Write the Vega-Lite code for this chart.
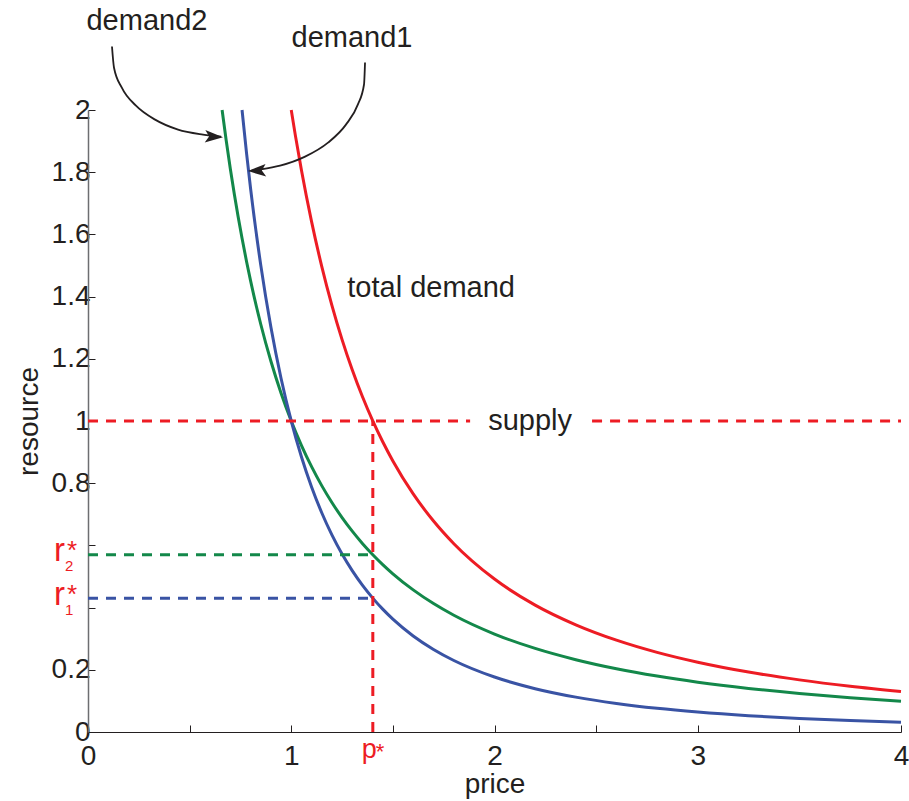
{
  "$schema": "https://vega.github.io/schema/vega-lite/v6.json",
  "width": 813,
  "height": 622,
  "autosize": {"type": "none"},
  "padding": {"left": 88, "top": 110, "right": 8, "bottom": 69},
  "background": "white",
  "config": {"view": {"stroke": null}, "font": "Liberation Sans"},
  "datasets": {
    "curves": [
      {"series": "demand2", "x": 0.6598, "y": 2.0},
      {"series": "demand2", "x": 0.68, "y": 1.9017},
      {"series": "demand2", "x": 0.70, "y": 1.8120},
      {"series": "demand2", "x": 0.72, "y": 1.7290},
      {"series": "demand2", "x": 0.7579, "y": 1.5874},
      {"series": "demand2", "x": 0.78, "y": 1.5130},
      {"series": "demand2", "x": 0.80, "y": 1.4505},
      {"series": "demand2", "x": 0.85, "y": 1.3111},
      {"series": "demand2", "x": 0.90, "y": 1.1920},
      {"series": "demand2", "x": 0.95, "y": 1.0893},
      {"series": "demand2", "x": 1.00, "y": 1.0},
      {"series": "demand2", "x": 1.05, "y": 0.9219},
      {"series": "demand2", "x": 1.10, "y": 0.8531},
      {"series": "demand2", "x": 1.15, "y": 0.7922},
      {"series": "demand2", "x": 1.20, "y": 0.7380},
      {"series": "demand2", "x": 1.25, "y": 0.6894},
      {"series": "demand2", "x": 1.30, "y": 0.6458},
      {"series": "demand2", "x": 1.35, "y": 0.6064},
      {"series": "demand2", "x": 1.40, "y": 0.5708},
      {"series": "demand2", "x": 1.45, "y": 0.5383},
      {"series": "demand2", "x": 1.50, "y": 0.5087},
      {"series": "demand2", "x": 1.60, "y": 0.4569},
      {"series": "demand2", "x": 1.70, "y": 0.4129},
      {"series": "demand2", "x": 1.80, "y": 0.3754},
      {"series": "demand2", "x": 2.00, "y": 0.3150},
      {"series": "demand2", "x": 2.20, "y": 0.2687},
      {"series": "demand2", "x": 2.40, "y": 0.2325},
      {"series": "demand2", "x": 2.60, "y": 0.2034},
      {"series": "demand2", "x": 2.80, "y": 0.1798},
      {"series": "demand2", "x": 3.00, "y": 0.1602},
      {"series": "demand2", "x": 3.25, "y": 0.1402},
      {"series": "demand2", "x": 3.50, "y": 0.1239},
      {"series": "demand2", "x": 3.75, "y": 0.1105},
      {"series": "demand2", "x": 4.00, "y": 0.0992},
      {"series": "demand1", "x": 0.7579, "y": 2.0},
      {"series": "demand1", "x": 0.78, "y": 1.8611},
      {"series": "demand1", "x": 0.80, "y": 1.7469},
      {"series": "demand1", "x": 0.85, "y": 1.5012},
      {"series": "demand1", "x": 0.90, "y": 1.3014},
      {"series": "demand1", "x": 0.95, "y": 1.1368},
      {"series": "demand1", "x": 1.00, "y": 1.0},
      {"series": "demand1", "x": 1.05, "y": 0.8852},
      {"series": "demand1", "x": 1.10, "y": 0.7880},
      {"series": "demand1", "x": 1.15, "y": 0.7051},
      {"series": "demand1", "x": 1.20, "y": 0.6339},
      {"series": "demand1", "x": 1.25, "y": 0.5724},
      {"series": "demand1", "x": 1.30, "y": 0.5190},
      {"series": "demand1", "x": 1.35, "y": 0.4722},
      {"series": "demand1", "x": 1.40, "y": 0.4312},
      {"series": "demand1", "x": 1.45, "y": 0.3950},
      {"series": "demand1", "x": 1.50, "y": 0.3629},
      {"series": "demand1", "x": 1.60, "y": 0.3088},
      {"series": "demand1", "x": 1.70, "y": 0.2654},
      {"series": "demand1", "x": 1.80, "y": 0.2300},
      {"series": "demand1", "x": 2.00, "y": 0.1768},
      {"series": "demand1", "x": 2.20, "y": 0.1393},
      {"series": "demand1", "x": 2.40, "y": 0.1121},
      {"series": "demand1", "x": 2.60, "y": 0.0918},
      {"series": "demand1", "x": 2.80, "y": 0.0762},
      {"series": "demand1", "x": 3.00, "y": 0.0642},
      {"series": "demand1", "x": 3.25, "y": 0.0525},
      {"series": "demand1", "x": 3.50, "y": 0.0437},
      {"series": "demand1", "x": 3.75, "y": 0.0367},
      {"series": "demand1", "x": 4.00, "y": 0.0313},
      {"series": "total", "x": 1.00, "y": 2.0},
      {"series": "total", "x": 1.02, "y": 1.9192},
      {"series": "total", "x": 1.05, "y": 1.8071},
      {"series": "total", "x": 1.10, "y": 1.6411},
      {"series": "total", "x": 1.15, "y": 1.4973},
      {"series": "total", "x": 1.20, "y": 1.3719},
      {"series": "total", "x": 1.25, "y": 1.2618},
      {"series": "total", "x": 1.30, "y": 1.1648},
      {"series": "total", "x": 1.35, "y": 1.0786},
      {"series": "total", "x": 1.40, "y": 1.0020},
      {"series": "total", "x": 1.45, "y": 0.9333},
      {"series": "total", "x": 1.50, "y": 0.8716},
      {"series": "total", "x": 1.60, "y": 0.7657},
      {"series": "total", "x": 1.70, "y": 0.6783},
      {"series": "total", "x": 1.80, "y": 0.6054},
      {"series": "total", "x": 2.00, "y": 0.4918},
      {"series": "total", "x": 2.20, "y": 0.4080},
      {"series": "total", "x": 2.40, "y": 0.3446},
      {"series": "total", "x": 2.60, "y": 0.2952},
      {"series": "total", "x": 2.80, "y": 0.2560},
      {"series": "total", "x": 3.00, "y": 0.2244},
      {"series": "total", "x": 3.25, "y": 0.1927},
      {"series": "total", "x": 3.50, "y": 0.1676},
      {"series": "total", "x": 3.75, "y": 0.1472},
      {"series": "total", "x": 4.00, "y": 0.1305}
    ],
    "dashes": [
      {"series": "total", "x0": 0, "x1": 1.88, "y0": 1, "y1": 1},
      {"series": "total", "x0": 2.48, "x1": 4, "y0": 1, "y1": 1},
      {"series": "total", "x0": 1.4013, "x1": 1.4013, "y0": 0, "y1": 1},
      {"series": "demand2", "x0": 0, "x1": 1.4013, "y0": 0.570, "y1": 0.570},
      {"series": "demand1", "x0": 0, "x1": 1.4013, "y0": 0.430, "y1": 0.430}
    ],
    "arrows": [
      {"arrow": "a2", "x": 0.118, "y": 2.204},
      {"arrow": "a2", "x": 0.128, "y": 2.136},
      {"arrow": "a2", "x": 0.167, "y": 2.071},
      {"arrow": "a2", "x": 0.236, "y": 2.014},
      {"arrow": "a2", "x": 0.330, "y": 1.969},
      {"arrow": "a2", "x": 0.443, "y": 1.937},
      {"arrow": "a2", "x": 0.566, "y": 1.921},
      {"arrow": "a2", "x": 0.655, "y": 1.914},
      {"arrow": "a1", "x": 1.363, "y": 2.153},
      {"arrow": "a1", "x": 1.358, "y": 2.082},
      {"arrow": "a1", "x": 1.328, "y": 2.018},
      {"arrow": "a1", "x": 1.269, "y": 1.953},
      {"arrow": "a1", "x": 1.181, "y": 1.895},
      {"arrow": "a1", "x": 1.068, "y": 1.850},
      {"arrow": "a1", "x": 0.945, "y": 1.821},
      {"arrow": "a1", "x": 0.837, "y": 1.808},
      {"arrow": "a1", "x": 0.805, "y": 1.805}
    ],
    "heads": [
      {"dir": "right", "x": 0.620, "y": 1.914},
      {"dir": "left", "x": 0.831, "y": 1.805}
    ],
    "notes": [
      {"label": "demand2", "x": 0.290, "y": 2.287},
      {"label": "demand1", "x": 1.299, "y": 2.232},
      {"label": "total demand", "x": 1.688, "y": 1.429},
      {"label": "supply", "x": 2.175, "y": 1.0}
    ],
    "rstar": [
      {"sub": "2", "y": 0.570},
      {"sub": "1", "y": 0.430}
    ],
    "pstar": [
      {"x": 1.4013, "y": 0}
    ]
  },
  "layer": [
    {
      "data": {"name": "curves"},
      "mark": {"type": "line", "strokeWidth": 3, "interpolate": "monotone"},
      "encoding": {
        "x": {
          "field": "x", "type": "quantitative",
          "scale": {"domain": [0, 4], "nice": false, "zero": false},
          "axis": {
            "title": "price",
            "values": [0, 0.5, 1, 1.5, 2, 2.5, 3, 3.5, 4],
            "labelExpr": "datum.value % 1 === 0 ? format(datum.value, 'd') : ''",
            "grid": false,
            "tickSize": -7,
            "tickColor": "#231f20",
            "domainColor": "#231f20",
            "domainWidth": 1.2,
            "labelFontSize": 28,
            "labelColor": "#231f20",
            "labelPadding": 17,
            "labelFlush": false,
            "labelOverlap": false,
            "titleFontSize": 28,
            "titleFontWeight": "normal",
            "titleColor": "#231f20",
            "titlePadding": 0
          }
        },
        "y": {
          "field": "y", "type": "quantitative",
          "scale": {"domain": [0, 2], "nice": false, "zero": false},
          "axis": {
            "title": "resource",
            "values": [0, 0.2, 0.4, 0.6, 0.8, 1, 1.2, 1.4, 1.6, 1.8, 2],
            "labelExpr": "(datum.value > 0.3 && datum.value < 0.7) ? '' : format(datum.value, '~g')",
            "grid": false,
            "tickSize": -7,
            "tickColor": "#231f20",
            "domainColor": "#6d6e71",
            "domainWidth": 1.5,
            "labelFontSize": 28,
            "labelColor": "#231f20",
            "labelPadding": 5,
            "labelFlush": false,
            "labelOverlap": false,
            "titleFontSize": 28,
            "titleFontWeight": "normal",
            "titleColor": "#231f20",
            "titlePadding": 8
          }
        },
        "color": {
          "field": "series", "type": "nominal",
          "scale": {"domain": ["demand1", "demand2", "total"], "range": ["#3953a4", "#13884a", "#ed1c24"]},
          "legend": null
        }
      }
    },
    {
      "data": {"name": "dashes"},
      "mark": {"type": "rule", "strokeWidth": 3, "strokeDash": [10, 8]},
      "encoding": {
        "x": {"field": "x0", "type": "quantitative"},
        "x2": {"field": "x1"},
        "y": {"field": "y0", "type": "quantitative"},
        "y2": {"field": "y1"},
        "color": {"field": "series", "type": "nominal", "legend": null}
      }
    },
    {
      "data": {"name": "arrows"},
      "mark": {"type": "line", "strokeWidth": 1.8, "color": "#231f20", "interpolate": "monotone"},
      "encoding": {
        "x": {"field": "x", "type": "quantitative"},
        "y": {"field": "y", "type": "quantitative"},
        "detail": {"field": "arrow"}
      }
    },
    {
      "data": {"name": "heads"},
      "transform": [{"filter": "datum.dir === 'right'"}],
      "mark": {"type": "point", "filled": true, "color": "#231f20", "opacity": 1, "size": 324, "shape": "M-1,-0.7L1,0L-1,0.7L-0.55,0Z", "angle": 3},
      "encoding": {
        "x": {"field": "x", "type": "quantitative"},
        "y": {"field": "y", "type": "quantitative"}
      }
    },
    {
      "data": {"name": "heads"},
      "transform": [{"filter": "datum.dir === 'left'"}],
      "mark": {"type": "point", "filled": true, "color": "#231f20", "opacity": 1, "size": 324, "shape": "M1,-0.7L-1,0L1,0.7L0.55,0Z", "angle": -3},
      "encoding": {
        "x": {"field": "x", "type": "quantitative"},
        "y": {"field": "y", "type": "quantitative"}
      }
    },
    {
      "data": {"name": "notes"},
      "mark": {"type": "text", "fontSize": 29, "color": "#231f20", "align": "center", "baseline": "middle"},
      "encoding": {
        "x": {"field": "x", "type": "quantitative"},
        "y": {"field": "y", "type": "quantitative"},
        "text": {"field": "label"}
      }
    },
    {
      "data": {"name": "rstar"},
      "mark": {"type": "text", "fontSize": 33, "color": "#ed1c24", "align": "right", "baseline": "alphabetic", "dy": 6.5, "text": "r"},
      "encoding": {
        "x": {"datum": -0.113, "type": "quantitative"},
        "y": {"field": "y", "type": "quantitative"}
      }
    },
    {
      "data": {"name": "rstar"},
      "mark": {"type": "text", "fontSize": 15, "color": "#ed1c24", "align": "left", "baseline": "alphabetic", "dy": 16.5},
      "encoding": {
        "x": {"datum": -0.113, "type": "quantitative"},
        "y": {"field": "y", "type": "quantitative"},
        "text": {"field": "sub"}
      }
    },
    {
      "data": {"name": "rstar"},
      "mark": {"type": "text", "fontSize": 26, "color": "#ed1c24", "align": "left", "baseline": "alphabetic", "dx": 2, "dy": 4.5, "text": "*"},
      "encoding": {
        "x": {"datum": -0.113, "type": "quantitative"},
        "y": {"field": "y", "type": "quantitative"}
      }
    },
    {
      "data": {"name": "pstar"},
      "mark": {"type": "text", "fontSize": 27, "color": "#ed1c24", "align": "right", "baseline": "alphabetic", "dx": 4, "dy": 26, "text": "p"},
      "encoding": {
        "x": {"field": "x", "type": "quantitative"},
        "y": {"field": "y", "type": "quantitative"}
      }
    },
    {
      "data": {"name": "pstar"},
      "mark": {"type": "text", "fontSize": 22, "color": "#ed1c24", "align": "left", "baseline": "alphabetic", "dx": 3, "dy": 27, "text": "*"},
      "encoding": {
        "x": {"field": "x", "type": "quantitative"},
        "y": {"field": "y", "type": "quantitative"}
      }
    }
  ]
}
